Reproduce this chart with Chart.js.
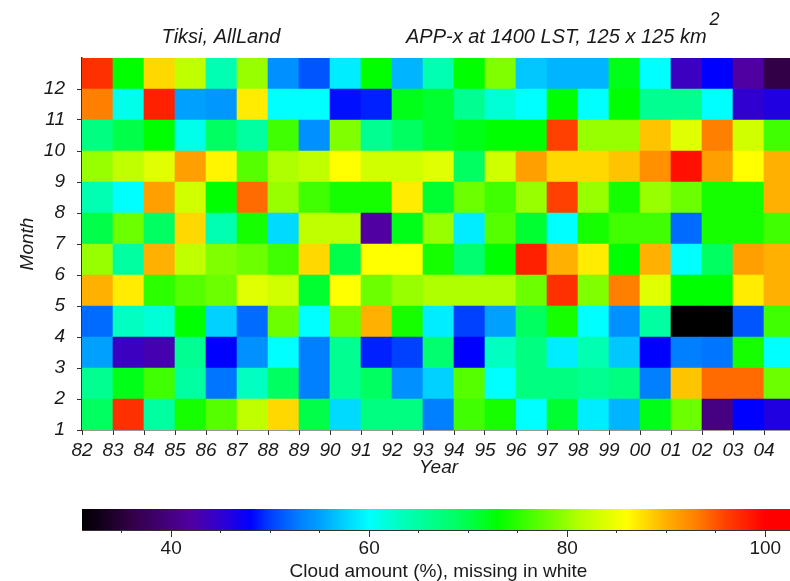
<!DOCTYPE html>
<html>
<head>
<meta charset="utf-8">
<script src="https://cdn.jsdelivr.net/npm/chart.js@4.4.1/dist/chart.umd.min.js"></script>
<style>
  html, body { margin: 0; padding: 0; background: #fff; overflow: hidden; }
  #wrap { position: relative; width: 790px; height: 581px; overflow: hidden; }
  canvas { position: absolute; left: 0; display: block; }
  #heat { top: 0; }
  #cbar { top: 480px; }
</style>
</head>
<body>
<div id="wrap">
  <canvas id="heat" width="800" height="480"></canvas>
  <canvas id="cbar" width="800" height="103"></canvas>
</div>
<script>
// years on x, months on y
const years = [1982, 1983, 1984, 1985, 1986, 1987, 1988, 1989, 1990, 1991, 1992, 1993,
               1994, 1995, 1996, 1997, 1998, 1999, 2000, 2001, 2002, 2003, 2004];
const yearLabels = ['82', '83', '84', '85', '86', '87', '88', '89', '90', '91', '92', '93',
                    '94', '95', '96', '97', '98', '99', '00', '01', '02', '03', '04'];
const months = [1, 2, 3, 4, 5, 6, 7, 8, 9, 10, 11, 12];

// cloud amount (%) per month, one value per year 82..04
const cloudJan = [69, 97, 65, 74, 77, 82, 88, 70, 58, 67, 67, 53, 76, 74, 60, 71, 59, 56, 72, 78, 40, 48, 46];
const cloudFeb = [66, 72, 76, 65, 52.5, 63, 69, 53, 66, 69, 54, 57.5, 77, 60, 67, 67, 66, 67, 53, 89, 94, 94, 78];
const cloudMar = [55, 44, 43, 66, 48, 54, 60, 53, 66, 49, 50, 68, 48, 63, 67, 59, 64, 57, 48, 53, 52.5, 74, 60];
const cloudApr = [52, 63, 62, 73, 57.5, 52, 78, 60, 78, 90, 74, 59, 50, 55, 69, 74, 60, 54, 65, 31, 31, 51, 76];
const cloudMay = [90, 87, 75, 77, 78, 84, 83, 71, 86, 78, 80, 81, 81, 81, 78, 97, 79, 93, 84, 73, 73, 87, 90];
const cloudJun = [80, 65, 90, 82, 79, 78, 76, 88, 70, 86, 86, 74, 68, 73, 98, 90, 87, 73, 90, 60, 69, 91, 90];
const cloudJul = [70, 78, 69, 88, 64, 74, 58, 82, 82, 42, 72, 80, 59, 77, 71, 60, 74, 76, 76, 52, 74, 74, 76];
const cloudAug = [64, 60, 91, 83, 73, 94, 80, 76, 74, 74, 87, 71, 78, 76, 80, 96, 80, 74, 80, 78, 74, 74, 90];
const cloudSep = [80, 82, 84, 91, 86.5, 77, 81, 82, 86, 83, 83, 84, 69, 83, 91, 88, 88, 89, 92, 99, 91, 86, 90];
const cloudOct = [67, 70, 73, 61, 69, 65, 76, 54, 79, 66, 69, 71, 72, 73, 73, 96, 80, 80, 89, 84, 93, 83, 76];
const cloudNov = [93, 61, 98, 55, 54.5, 87, 60, 60, 48.5, 49, 72, 71, 66, 62, 60, 73, 60, 73, 66, 66, 60, 45, 46];
const cloudDec = [97, 73, 88, 82, 64, 80, 54, 51, 59, 73, 56, 64, 73, 79, 57, 56, 56, 72, 60, 44, 48, 42, 36];

// colour bar range and ticks
const cbMin = 31;
const cbMax = 103;
const cbMajorTicks = [40, 60, 80, 100];
const cbMinorTicks = [35, 40, 45, 50, 55, 60, 65, 70, 75, 80, 85, 90, 95, 100];

const cloudByMonth = [cloudJan, cloudFeb, cloudMar, cloudApr, cloudMay, cloudJun,
                      cloudJul, cloudAug, cloudSep, cloudOct, cloudNov, cloudDec];

// rainbow colour table (value -> rgb)
const rainbow = [
  [31, [0, 0, 0]], [36, [50, 0, 70]], [42, [80, 0, 160]], [45, [48, 0, 208]],
  [48, [0, 0, 255]], [50, [0, 64, 255]], [53, [0, 128, 255]], [55, [0, 160, 255]],
  [57, [0, 200, 255]], [60, [0, 255, 255]], [63, [0, 255, 192]], [66, [0, 255, 144]],
  [69, [0, 255, 96]], [73, [0, 255, 0]], [76, [64, 255, 0]], [79, [128, 255, 0]],
  [81, [176, 255, 0]], [83, [208, 255, 0]], [86, [255, 255, 0]], [88, [255, 216, 0]],
  [90, [255, 176, 0]], [93, [255, 128, 0]], [96, [255, 64, 0]], [98, [255, 32, 0]],
  [100, [255, 0, 0]], [103, [255, 0, 0]]
];

function rgb(c) { return 'rgb(' + c.map(Math.round).join(',') + ')'; }

function colourFor(v) {
  if (v == null) return '#ffffff';
  if (v <= rainbow[0][0]) return rgb(rainbow[0][1]);
  for (let i = 1; i < rainbow.length; i++) {
    const [v1, c1] = rainbow[i];
    if (v <= v1) {
      const [v0, c0] = rainbow[i - 1];
      const t = (v - v0) / (v1 - v0);
      return rgb(c0.map((a, k) => a + (c1[k] - a) * t));
    }
  }
  return rgb(rainbow[rainbow.length - 1][1]);
}

Chart.defaults.font.family = '"Liberation Sans", Arial, Helvetica, sans-serif';
Chart.defaults.color = '#1a1a1a';

const italic = { size: 19, style: 'italic' };

const datasets = months.map((m, i) => ({
  data: years.map(y => ({ x: y + 0.5, y: [m, m + 1] })),
  backgroundColor: cloudByMonth[i].map(colourFor),
  borderWidth: 0,
  grouped: false,
  barPercentage: 1,
  categoryPercentage: 1
}));

const titleText = {
  id: 'titleText',
  afterDraw(chart) {
    const c = chart.ctx;
    c.save();
    c.fillStyle = '#1a1a1a';
    c.textBaseline = 'alphabetic';
    c.font = 'italic 20px "Liberation Sans", Arial, sans-serif';
    c.textAlign = 'center';
    c.fillText('Tiksi, AllLand', 221, 43);
    c.textAlign = 'left';
    const t = 'APP-x at 1400 LST, 125 x 125 km';
    c.fillText(t, 406, 43);
    const w = c.measureText(t).width;
    c.font = 'italic 18px "Liberation Sans", Arial, sans-serif';
    c.fillText('2', 406 + w + 3, 25);
    c.restore();
  }
};

new Chart(document.getElementById('heat'), {
  type: 'bar',
  data: { datasets },
  plugins: [titleText],
  options: {
    responsive: false,
    animation: false,
    layout: { padding: { top: 58, left: 0, right: 5, bottom: 0 } },
    plugins: { legend: { display: false }, tooltip: { enabled: false } },
    scales: {
      x: {
        type: 'linear',
        offset: false,
        min: 1982,
        max: 2005,
        afterBuildTicks: s => { s.ticks = years.map(v => ({ value: v })); },
        afterFit: s => { s.height = 50; },
        ticks: {
          font: italic,
          padding: 4,
          maxRotation: 0,
          autoSkip: false,
          callback: v => yearLabels[years.indexOf(v)]
        },
        grid: { offset: false, drawOnChartArea: false, tickLength: 5, tickColor: '#333' },
        border: { display: true, color: '#333', width: 1.5 },
        title: { display: true, text: 'Year', font: italic, padding: { top: 0, bottom: 1 } }
      },
      y: {
        type: 'linear',
        min: 1,
        max: 13,
        afterBuildTicks: s => { s.ticks = months.map(v => ({ value: v })); },
        afterFit: s => { s.width = 82; },
        ticks: { font: italic, padding: 12, autoSkip: false, callback: v => String(v) },
        grid: { drawOnChartArea: false, tickLength: 5, tickColor: '#333' },
        border: { display: true, color: '#333', width: 1.5 },
        title: { display: true, text: 'Month', font: italic, padding: { top: 16, bottom: 0 } }
      }
    }
  }
});

// colour bar
function barGradient(context) {
  const chart = context.chart;
  const xs = chart.scales.x;
  const x0 = xs ? xs.getPixelForValue(cbMin) : NaN;
  const x1 = xs ? xs.getPixelForValue(cbMax) : NaN;
  if (!isFinite(x0) || !isFinite(x1) || x1 <= x0) return colourFor(70);
  const g = chart.ctx.createLinearGradient(x0, 0, x1, 0);
  rainbow.forEach(([v, c]) => g.addColorStop((v - cbMin) / (cbMax - cbMin), rgb(c)));
  return g;
}

new Chart(document.getElementById('cbar'), {
  type: 'bar',
  data: {
    labels: [''],
    datasets: [{
      data: [[cbMin, cbMax]],
      xAxisID: 'x',
      backgroundColor: barGradient,
      borderWidth: 0,
      barPercentage: 1,
      categoryPercentage: 1
    }]
  },
  options: {
    indexAxis: 'y',
    responsive: false,
    animation: false,
    layout: { padding: { top: 29, left: 82, right: 5, bottom: 0 } },
    plugins: { legend: { display: false }, tooltip: { enabled: false } },
    scales: {
      y: { display: false },
      xMinor: {
        type: 'linear',
        axis: 'x',
        position: 'bottom',
        weight: 0,
        min: cbMin,
        max: cbMax,
        afterBuildTicks: s => { s.ticks = cbMinorTicks.map(v => ({ value: v })); },
        afterFit: s => { s.height = 0; },
        ticks: { display: false },
        grid: { drawOnChartArea: false, tickLength: 3, tickColor: '#333' },
        border: { display: false }
      },
      x: {
        type: 'linear',
        position: 'bottom',
        weight: 1,
        min: cbMin,
        max: cbMax,
        afterBuildTicks: s => { s.ticks = cbMajorTicks.map(v => ({ value: v })); },
        afterFit: s => { s.height = 53; },
        ticks: { font: { size: 19 }, padding: 0, maxRotation: 0, callback: v => String(v) },
        grid: { drawOnChartArea: false, tickLength: 7, tickColor: '#333' },
        border: { display: true, color: '#333', width: 1 },
        title: {
          display: true,
          text: 'Cloud amount (%), missing in white',
          font: { size: 19 },
          padding: { top: 0, bottom: 0 }
        }
      }
    }
  }
});
</script>
</body>
</html>
